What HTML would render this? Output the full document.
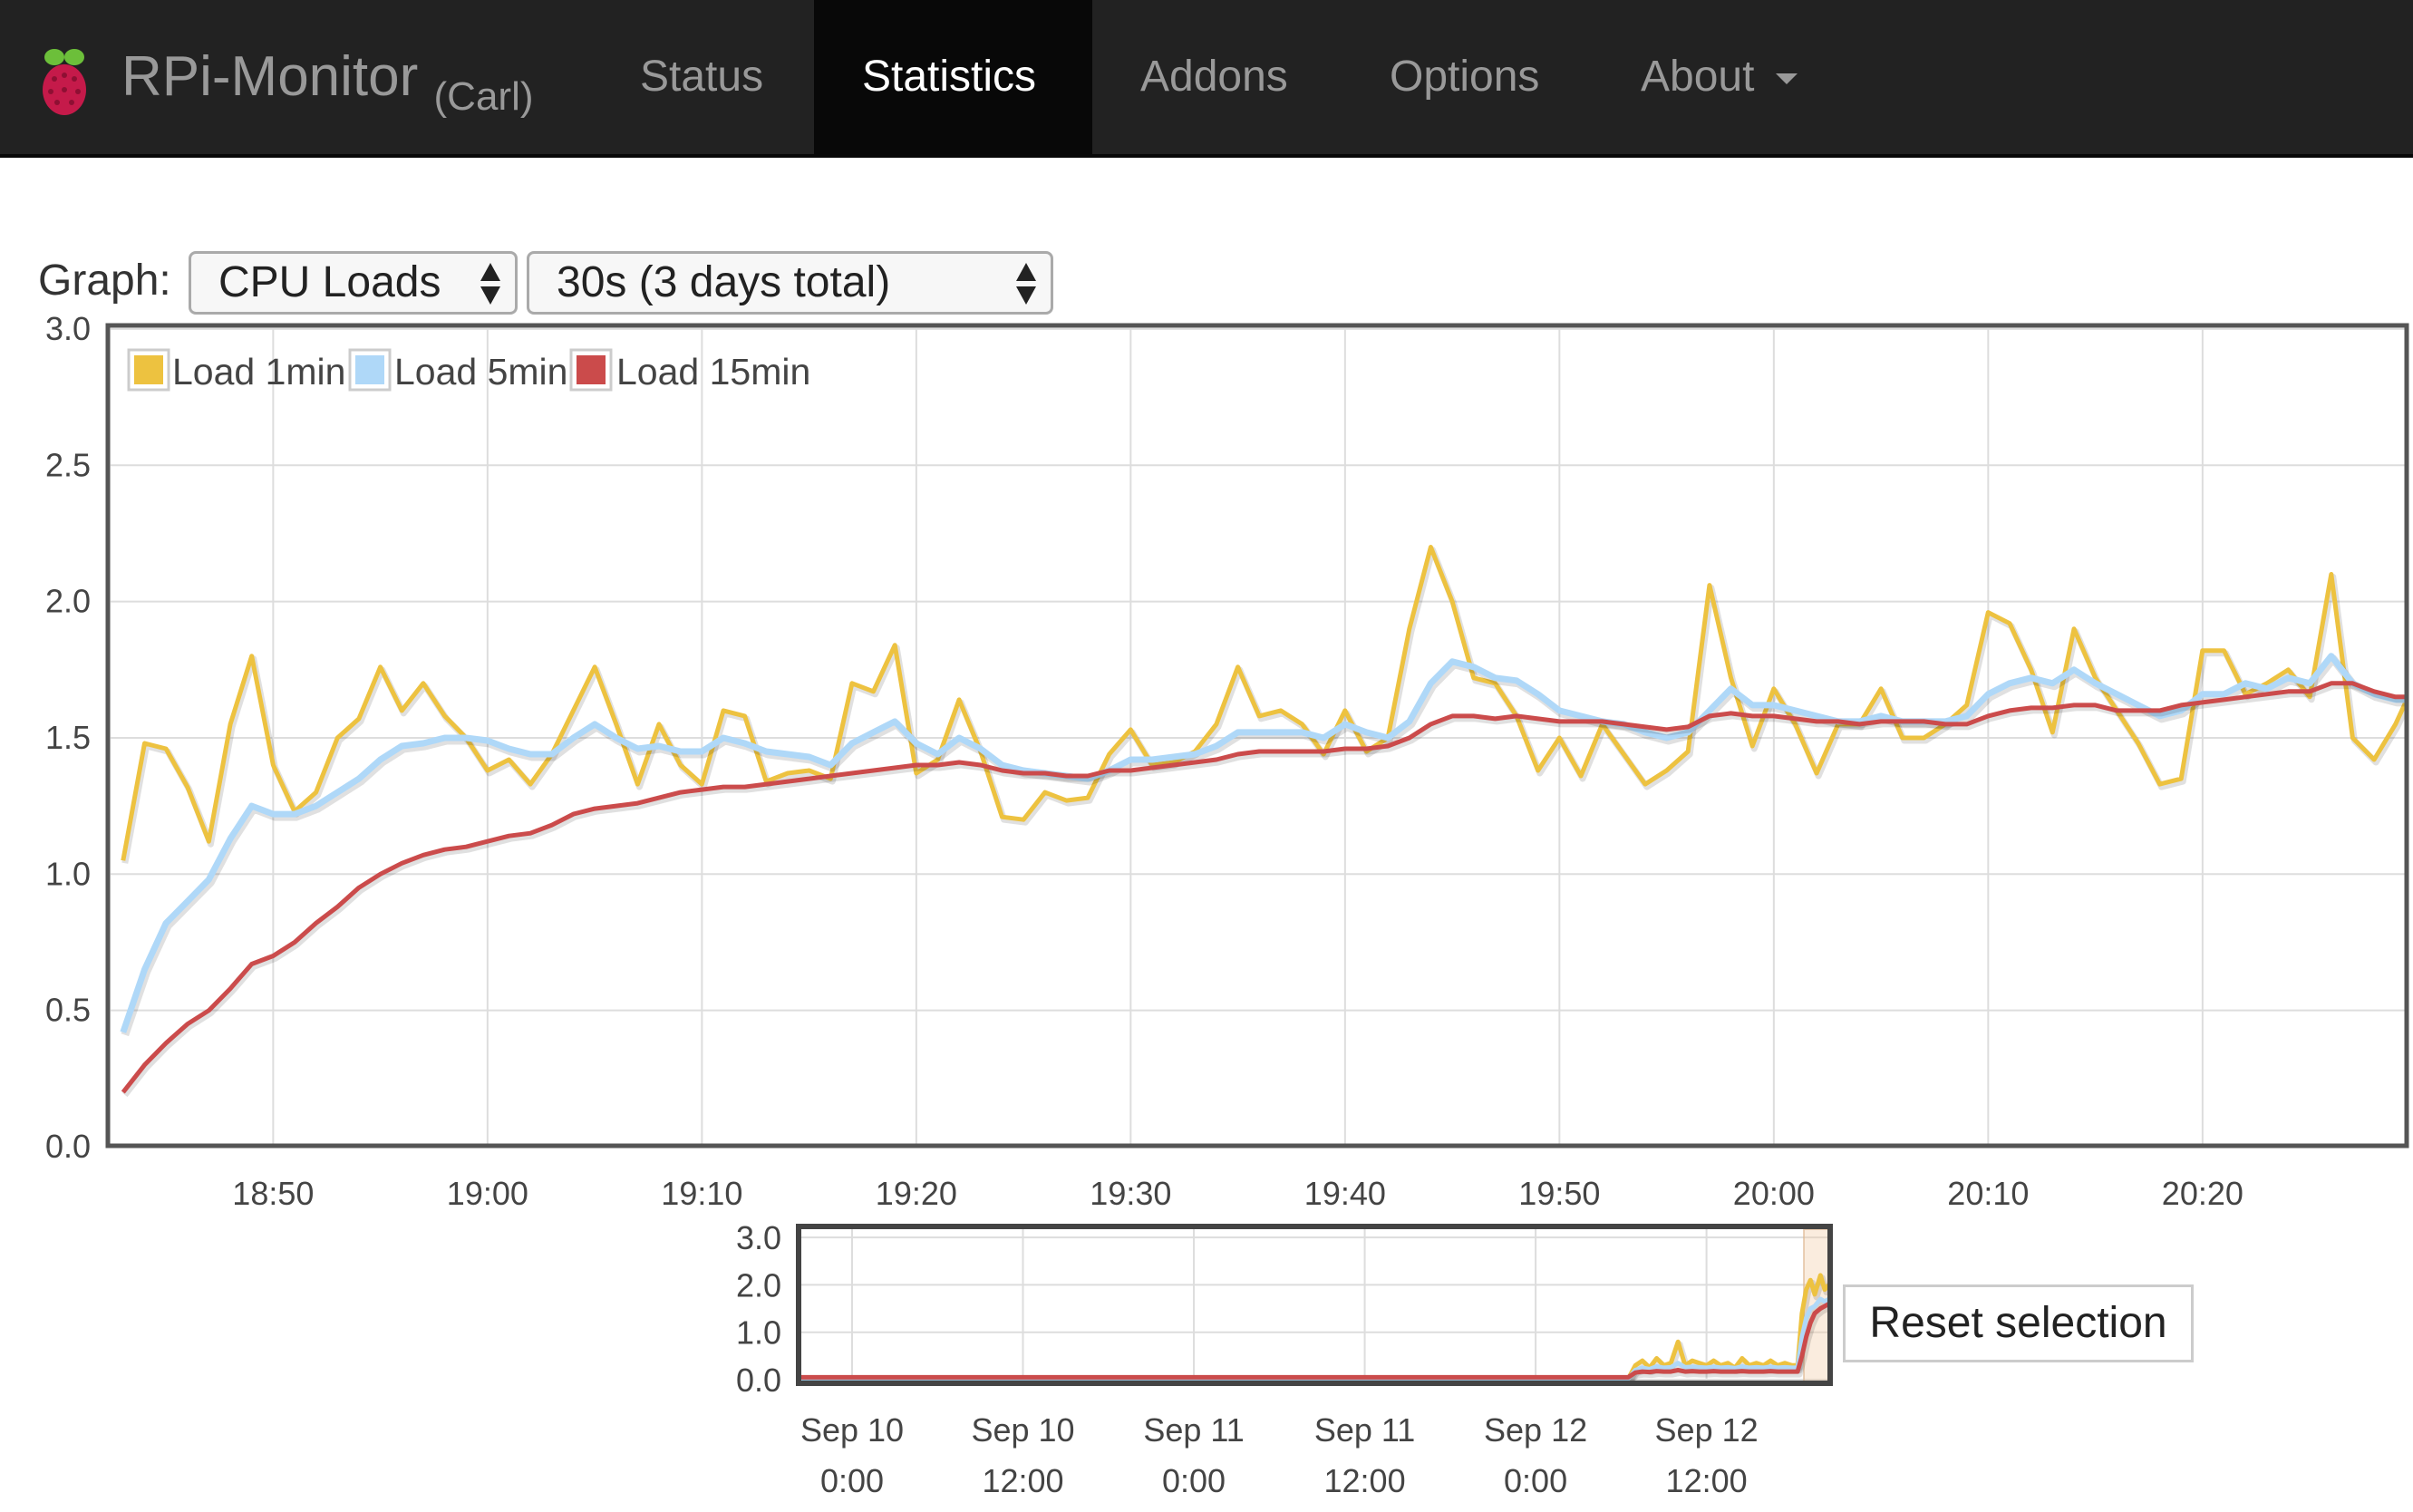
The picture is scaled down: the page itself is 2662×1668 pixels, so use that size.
<!DOCTYPE html>
<html><head><meta charset="utf-8">
<style>
body{margin:0;width:2662px;height:1668px;background:#fff;position:relative;overflow:hidden;font-family:"Liberation Sans",sans-serif;}
.nav{position:absolute;left:0;top:0;width:2662px;height:170px;background:#222;border-bottom:4px solid #080808;}
.nav .it{position:absolute;top:0;height:170px;line-height:170px;font-size:48px;color:#999;}
.brand{position:absolute;left:134px;top:0;line-height:170px;font-size:62px;color:#999;}
.brand small{font-size:44px;position:relative;top:16px;}
.active{position:absolute;left:898px;top:0;width:307px;height:170px;background:#080808;}
.lbl{position:absolute;left:42px;top:282px;font-size:48px;color:#333;}
.sel{position:absolute;top:277px;height:64px;border:3px solid #aaa;border-radius:8px;background:#f7f7f7;font-size:48px;line-height:64px;color:#222;box-sizing:content-box;}
.arr{position:absolute;right:14px;top:8px;}
</style></head><body>
<div class="nav">
 <svg style="position:absolute;left:42px;top:51px" width="58" height="78">
  <ellipse cx="18" cy="12" rx="11" ry="9" fill="#6cbf3a"/><ellipse cx="40" cy="12" rx="11" ry="9" fill="#6cbf3a"/>
  <ellipse cx="29" cy="48" rx="24" ry="28" fill="#c51a4a"/>
  <g fill="#8e0f33"><circle cx="18" cy="36" r="3"/><circle cx="29" cy="32" r="3"/><circle cx="40" cy="36" r="3"/><circle cx="14" cy="50" r="3"/><circle cx="29" cy="48" r="3"/><circle cx="44" cy="50" r="3"/><circle cx="21" cy="62" r="3"/><circle cx="37" cy="62" r="3"/></g>
 </svg>
 <div class="brand">RPi-Monitor <small>(Carl)</small></div>
 <div class="active"></div>
 <div class="it" style="left:706px">Status</div>
 <div class="it" style="left:951px;color:#fff">Statistics</div>
 <div class="it" style="left:1258px">Addons</div>
 <div class="it" style="left:1533px">Options</div>
 <div class="it" style="left:1810px">About <span style="display:inline-block;width:0;height:0;border-left:12px solid transparent;border-right:12px solid transparent;border-top:12px solid #999;vertical-align:middle;margin-left:10px"></span></div>
</div>
<div class="lbl">Graph:</div>
<div class="sel" style="left:208px;width:357px"><span style="margin-left:30px">CPU Loads</span>
 <svg class="arr" width="26" height="50"><polygon points="13,2 24,22 2,22" fill="#222"/><polygon points="13,48 24,28 2,28" fill="#222"/></svg></div>
<div class="sel" style="left:581px;width:575px"><span style="margin-left:30px">30s (3 days total)</span>
 <svg class="arr" width="26" height="50"><polygon points="13,2 24,22 2,22" fill="#222"/><polygon points="13,48 24,28 2,28" fill="#222"/></svg></div>

<svg id="ch" width="2662" height="1668" style="position:absolute;left:0;top:0"></svg>
<div style="position:absolute;left:2033px;top:1417px;width:381px;height:80px;border:3px solid #ccc;background:#fff;font-size:48px;line-height:80px;text-align:center;color:#222">Reset selection</div>

<script>
// main chart data (1 sample per minute starting 18:43)
const startMinute = 18*60+43;
const load1 = [1.05,1.48,1.46,1.32,1.12,1.55,1.80,1.40,1.23,1.30,1.50,1.57,1.76,1.60,1.70,1.58,1.50,1.38,1.42,1.33,1.44,1.60,1.76,1.55,1.33,1.55,1.40,1.33,1.60,1.58,1.34,1.37,1.38,1.35,1.70,1.67,1.84,1.37,1.42,1.64,1.45,1.21,1.20,1.30,1.27,1.28,1.44,1.53,1.40,1.41,1.45,1.55,1.76,1.58,1.60,1.55,1.44,1.60,1.45,1.50,1.90,2.20,2.00,1.72,1.70,1.58,1.38,1.50,1.36,1.55,1.44,1.33,1.38,1.45,2.06,1.72,1.47,1.68,1.55,1.37,1.55,1.55,1.68,1.50,1.50,1.55,1.62,1.96,1.92,1.75,1.52,1.90,1.72,1.60,1.48,1.33,1.35,1.82,1.82,1.66,1.70,1.75,1.65,2.10,1.50,1.42,1.55,1.72];
const load5 = [0.42,0.65,0.82,0.90,0.98,1.13,1.25,1.22,1.22,1.25,1.30,1.35,1.42,1.47,1.48,1.50,1.50,1.49,1.46,1.44,1.44,1.50,1.55,1.50,1.46,1.47,1.45,1.45,1.50,1.48,1.45,1.44,1.43,1.40,1.48,1.52,1.56,1.48,1.44,1.50,1.46,1.40,1.38,1.37,1.36,1.35,1.38,1.42,1.42,1.43,1.44,1.47,1.52,1.52,1.52,1.52,1.50,1.55,1.52,1.50,1.56,1.70,1.78,1.76,1.72,1.71,1.66,1.60,1.58,1.56,1.55,1.52,1.50,1.52,1.60,1.68,1.62,1.62,1.60,1.58,1.56,1.56,1.58,1.56,1.56,1.56,1.58,1.66,1.70,1.72,1.70,1.75,1.70,1.66,1.62,1.58,1.60,1.66,1.66,1.70,1.68,1.72,1.70,1.80,1.70,1.66,1.64,1.64];
const load15 = [0.20,0.30,0.38,0.45,0.50,0.58,0.67,0.70,0.75,0.82,0.88,0.95,1.00,1.04,1.07,1.09,1.10,1.12,1.14,1.15,1.18,1.22,1.24,1.25,1.26,1.28,1.30,1.31,1.32,1.32,1.33,1.34,1.35,1.36,1.37,1.38,1.39,1.40,1.40,1.41,1.40,1.38,1.37,1.37,1.36,1.36,1.38,1.38,1.39,1.40,1.41,1.42,1.44,1.45,1.45,1.45,1.45,1.46,1.46,1.47,1.50,1.55,1.58,1.58,1.57,1.58,1.57,1.56,1.56,1.56,1.55,1.54,1.53,1.54,1.58,1.59,1.58,1.58,1.57,1.56,1.56,1.55,1.56,1.56,1.56,1.55,1.55,1.58,1.60,1.61,1.61,1.62,1.62,1.60,1.60,1.60,1.62,1.63,1.64,1.65,1.66,1.67,1.67,1.70,1.70,1.67,1.65,1.65];
const yTicks = [0,0.5,1,1.5,2,2.5,3];
const xTickMinutes = [18*60+50,19*60,19*60+10,19*60+20,19*60+30,19*60+40,19*60+50,20*60,20*60+10,20*60+20];
const xTickLabels = ["18:50","19:00","19:10","19:20","19:30","19:40","19:50","20:00","20:10","20:20"];
const legendLabels = ["Load 1min","Load 5min","Load 15min"];
// overview chart data (hours since Sep 10 0:00)
const miniHours = [-3.8,54.5,55,55.5,56,56.5,57,57.5,58,58.5,59,59.5,60,60.5,61,61.5,62,62.5,63,63.5,64,64.5,65,65.5,66,66.4,66.7,67,67.3,67.6,68,68.3,68.6];
const mini1 = [0.02,0.02,0.3,0.4,0.25,0.45,0.3,0.35,0.8,0.3,0.4,0.35,0.3,0.4,0.3,0.35,0.25,0.45,0.3,0.35,0.3,0.4,0.3,0.35,0.3,0.3,1.4,1.9,2.1,1.8,2.2,1.9,2.0];
const mini5 = [0.02,0.02,0.2,0.25,0.22,0.28,0.25,0.26,0.35,0.26,0.27,0.26,0.25,0.27,0.25,0.26,0.24,0.28,0.25,0.26,0.25,0.27,0.25,0.26,0.25,0.25,0.9,1.3,1.5,1.55,1.7,1.65,1.7];
const mini15 = [0.05,0.05,0.15,0.17,0.16,0.18,0.17,0.17,0.2,0.17,0.18,0.17,0.17,0.18,0.17,0.17,0.17,0.18,0.17,0.17,0.17,0.18,0.17,0.17,0.17,0.17,0.5,0.9,1.2,1.4,1.5,1.55,1.6];
const miniYTicks = [0,1,2,3];
const miniXTickHours = [0,12,24,36,48,60];
const miniXTickL1 = ["Sep 10","Sep 10","Sep 11","Sep 11","Sep 12","Sep 12"];
const miniXTickL2 = ["0:00","12:00","0:00","12:00","0:00","12:00"];

const NS="http://www.w3.org/2000/svg";
const svg=document.getElementById('ch');
function mk(tag,attrs,parent){const e=document.createElementNS(NS,tag);for(const k in attrs)e.setAttribute(k,attrs[k]);(parent||svg).appendChild(e);return e;}
const colors=["#EDC240","#AFD8F8","#CB4B4B"];

// main axes
const L=122,R=2655,T=362,B=1263;
const xm=m=>135.8+(m-startMinute)*23.65;
const ym=v=>1265-v*300.7;
const cp=mk('clipPath',{id:'mc'});mk('rect',{x:L,y:T,width:R-L,height:B-T},cp);
yTicks.forEach(v=>{
 const g=mk('line',{x1:L,x2:R,y1:ym(v),y2:ym(v),stroke:'#ddd','stroke-width':2});
 
 
 const t=mk('text',{x:100,y:ym(v)+12,'text-anchor':'end','font-size':36,fill:'#444'});t.textContent=v.toFixed(1);
 
 
});
xTickMinutes.forEach((m,i)=>{
 const g=mk('line',{x1:xm(m),x2:xm(m),y1:T,y2:B,stroke:'#ddd','stroke-width':2});
 
 
 const t=mk('text',{x:xm(m),y:1329,'text-anchor':'middle','font-size':36,fill:'#444'});t.textContent=xTickLabels[i];
 
 
});
function line(vals,xf,yf,col,w,clip,name){
 const d=vals.map((v,i)=>(i?'L':'M')+xf(i).toFixed(1)+','+yf(v).toFixed(1)).join('');
 const s=mk('path',{d:d,fill:'none',stroke:'rgba(0,0,0,0.12)','stroke-width':w+2,transform:'translate(2,3)','clip-path':'url(#'+clip+')','stroke-linejoin':'round'});
 
 
 const p=mk('path',{d:d,fill:'none',stroke:col,'stroke-width':w,'clip-path':'url(#'+clip+')','stroke-linejoin':'round'});
 
 
}
[load1,load5,load15].forEach((arr,k)=>line(arr,i=>xm(startMinute+i),ym,colors[k],k==1?7:5,'mc',['load-1min-line','load-5min-line','load-15min-line'][k]));
const fr=mk('rect',{x:L-3,y:T-3,width:R-L+3,height:B-T+4,fill:'none',stroke:'#555','stroke-width':5});


// legend
const lx=[140,384,628],tw=[190,435,680];
legendLabels.forEach((s,k)=>{
 const b=mk('rect',{x:lx[k]+2,y:386,width:44,height:44,fill:'#fff',stroke:'#ccc','stroke-width':3});
 
 
 const c=mk('rect',{x:lx[k]+8,y:392,width:32,height:32,fill:colors[k]});
 
 
 const t=mk('text',{x:tw[k],y:424,'font-size':41,fill:'#444'});t.textContent=s;
 
 
});

// overview chart
const mL=883,mR=2019,mT=1356,mB=1526;
const xh=h=>940+h*15.71;
const yh=v=>1522-v*52.3;
const cp2=mk('clipPath',{id:'oc'});mk('rect',{x:mL,y:mT,width:mR-mL,height:mB-mT},cp2);
miniYTicks.forEach(v=>{
 const g=mk('line',{x1:mL,x2:mR,y1:yh(v),y2:yh(v),stroke:'#ddd','stroke-width':2});
 
 
 const t=mk('text',{x:862,y:yh(v)+13,'text-anchor':'end','font-size':36,fill:'#444'});t.textContent=v.toFixed(1);
 
 
});
miniXTickHours.forEach((h,i)=>{
 const g=mk('line',{x1:xh(h),x2:xh(h),y1:mT,y2:mB,stroke:'#ddd','stroke-width':2});
 
 
 const t=mk('text',{x:xh(h),y:1590,'text-anchor':'middle','font-size':36,fill:'#444'});t.textContent=miniXTickL1[i];
 
 
 const t2=mk('text',{x:xh(h),y:1646,'text-anchor':'middle','font-size':36,fill:'#444'});t2.textContent=miniXTickL2[i];
 
 
});
const selr=mk('rect',{x:1990,y:mT,width:mR-1990,height:mB-mT,fill:'rgba(240,200,160,0.35)',stroke:'rgba(220,180,140,0.6)','stroke-width':2});


[mini1,mini5,mini15].forEach((arr,k)=>line(arr,i=>xh(miniHours[i]),yh,colors[k],5,'oc',['overview-1min-line','overview-5min-line','overview-15min-line'][k]));
const fr2=mk('rect',{x:mL-2,y:mT-3,width:mR-mL+2,height:mB-mT+3,fill:'none',stroke:'#444','stroke-width':6});


</script>
</body></html>
